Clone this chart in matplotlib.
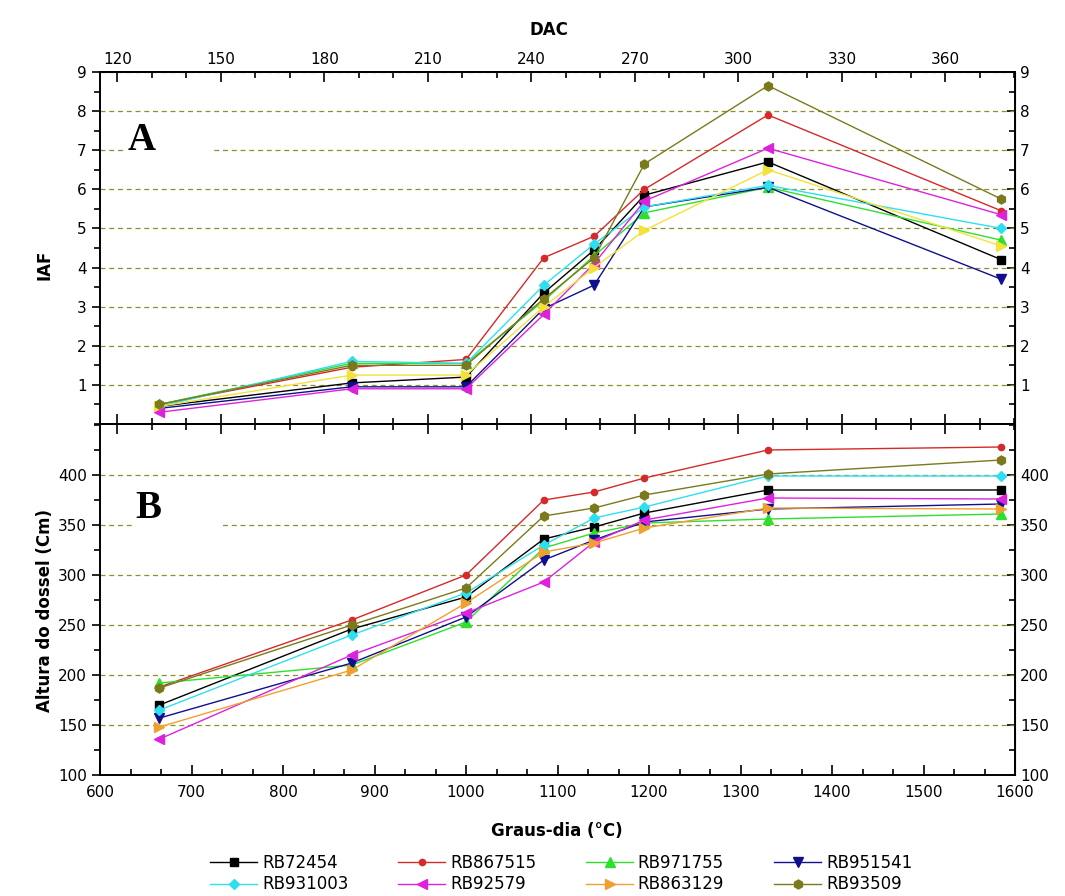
'''IAF e altura do dossel de variedades RB em função dos graus-dia'''

import numpy as np
import matplotlib
matplotlib.use('Agg')
import matplotlib.pyplot as plt
from matplotlib.ticker import MultipleLocator, FixedLocator, AutoMinorLocator
from matplotlib.patches import Rectangle

# graus-dia acumulados de cada avaliação
graus_dia = [665, 875, 1000, 1085, 1140, 1195, 1330, 1585]

variedades = ['RB72454', 'RB867515', 'RB971755', 'RB951541',
              'RB931003', 'RB92579', 'RB863129', 'RB93509']

# painel A : índice de área foliar
iaf_rb72454 = [0.45, 1.05, 1.2, 3.35, 4.45, 5.85, 6.7, 4.2]
iaf_rb867515 = [0.5, 1.45, 1.65, 4.25, 4.8, 6.0, 7.9, 5.45]
iaf_rb971755 = [0.5, 1.55, 1.55, 3.15, 4.3, 5.4, 6.05, 4.7]
iaf_rb951541 = [0.4, 0.95, 0.95, 2.95, 3.55, 5.55, 6.05, 3.7]
iaf_rb931003 = [0.45, 1.6, 1.55, 3.55, 4.6, 5.55, 6.1, 5.0]
iaf_rb92579 = [0.3, 0.9, 0.9, 2.8, 4.1, 5.7, 7.05, 5.35]
iaf_rb863129 = [0.45, 1.25, 1.25, 3.0, 4.0, 4.95, 6.5, 4.55]
iaf_rb93509 = [0.5, 1.5, 1.5, 3.2, 4.25, 6.65, 8.65, 5.75]

# painel B : altura do dossel (cm)
alt_rb72454 = [170, 246, 278, 336, 348, 362, 385, 385]
alt_rb867515 = [188, 255, 300, 375, 383, 397, 425, 428]
alt_rb971755 = [192, 210, 253, 327, 342, 352, 356, 361]
alt_rb951541 = [157, 212, 258, 315, 335, 353, 366, 371]
alt_rb931003 = [165, 240, 282, 330, 357, 368, 399, 399]
alt_rb92579 = [136, 220, 262, 293, 333, 355, 377, 376]
alt_rb863129 = [148, 205, 272, 323, 332, 347, 367, 366]
alt_rb93509 = [187, 250, 287, 359, 367, 380, 401, 415]

dac_ticks = [120, 150, 180, 210, 240, 270, 300, 330, 360]

iaf = [iaf_rb72454, iaf_rb867515, iaf_rb971755, iaf_rb951541,
       iaf_rb931003, iaf_rb92579, iaf_rb863129, iaf_rb93509]
altura = [alt_rb72454, alt_rb867515, alt_rb971755, alt_rb951541,
          alt_rb931003, alt_rb92579, alt_rb863129, alt_rb93509]

cores_b = ['#000000', '#d42a2a', '#2ee02e', '#10108c',
           '#2ee0ee', '#dd22dd', '#f0a030', '#7a7a1c']
cores_a = list(cores_b)
cores_a[6] = '#f2e23a'
marcadores = ['s', 'o', '^', 'v', 'D', '<', '>', 'h']
tamanhos = [6, 4.5, 6.5, 6.5, 5.5, 7, 7, 6.5]

cor_grade = '#8f8f2e'
fonte_ticks = 11


def gd_para_dac(x):
    return 120 + (np.asarray(x, dtype=float) - 618.9) / 3.771


def dac_para_gd(d):
    return 618.9 + (np.asarray(d, dtype=float) - 120) * 3.771


fig = plt.figure(figsize=(10.65, 8.96), dpi=100)
axA = fig.add_axes([0.0939, 0.5268, 0.8592, 0.3929])
axB = fig.add_axes([0.0939, 0.135, 0.8592, 0.3918])

for ax in (axA, axB):
    ax.set_xlim(600, 1600)
    ax.set_axisbelow(True)
    ax.grid(axis='y', color=cor_grade, linestyle=(0, (4, 3)), linewidth=0.9)
    for s in ax.spines.values():
        s.set_linewidth(1.4)
    ax.tick_params(axis='y', which='both', direction='out', labelsize=fonte_ticks,
                   width=1.2)
    ax.tick_params(axis='y', which='major', length=6)
    ax.tick_params(axis='y', which='minor', length=4)

# painel A
axA.set_ylim(0, 9)
axA.yaxis.set_major_locator(FixedLocator(range(1, 10)))
axA.yaxis.set_minor_locator(MultipleLocator(0.5))
axA.tick_params(axis='x', which='both', bottom=False, labelbottom=False)
for i, serie in enumerate(iaf):
    axA.plot(graus_dia, serie, color=cores_a[i], marker=marcadores[i],
             markersize=tamanhos[i], linewidth=1, zorder=2)

# painel B
axB.set_ylim(100, 451)
axB.yaxis.set_major_locator(FixedLocator(range(100, 401, 50)))
axB.yaxis.set_minor_locator(MultipleLocator(25))
axB.xaxis.set_major_locator(MultipleLocator(100))
axB.xaxis.set_minor_locator(AutoMinorLocator(3))
axB.tick_params(axis='x', which='both', direction='in', labelsize=fonte_ticks,
                width=1.2, pad=7)
axB.tick_params(axis='x', which='major', length=7)
axB.tick_params(axis='x', which='minor', length=4)
linhas = []
for i, serie in enumerate(altura):
    ln, = axB.plot(graus_dia, serie, color=cores_b[i], marker=marcadores[i],
                   markersize=tamanhos[i], linewidth=1, zorder=2)
    linhas.append(ln)

# eixos DAC (topo de A, base de A e topo de B)
for ax, lado, rotulo in ((axA, 'top', True), (axA, 'bottom', False), (axB, 'top', False)):
    sec = ax.secondary_xaxis(lado, functions=(gd_para_dac, dac_para_gd))
    sec.xaxis.set_major_locator(FixedLocator(dac_ticks))
    sec.xaxis.set_minor_locator(MultipleLocator(10))
    sec.tick_params(which='both', direction='in', labelsize=fonte_ticks, width=1.2,
                    labeltop=rotulo, labelbottom=False)
    sec.tick_params(which='major', length=7)
    sec.tick_params(which='minor', length=4)
    sec.spines[lado].set_linewidth(1.4)

# eixos y da direita
for ax, maj, mnr in ((axA, range(1, 10), 0.5), (axB, range(100, 401, 50), 25)):
    sec = ax.secondary_yaxis('right')
    sec.yaxis.set_major_locator(FixedLocator(maj))
    sec.yaxis.set_minor_locator(MultipleLocator(mnr))
    sec.tick_params(which='both', direction='in', labelsize=fonte_ticks, width=1.2)
    sec.tick_params(which='major', length=6)
    sec.tick_params(which='minor', length=4)

# letras dos painéis
axA.add_patch(Rectangle((0.025, 6.75), 0.1, 0.5, transform=axA.get_yaxis_transform(),
                        facecolor='white', edgecolor='none', zorder=1))
axB.add_patch(Rectangle((0.036, 340), 0.097, 20, transform=axB.get_yaxis_transform(),
                        facecolor='white', edgecolor='none', zorder=1))
axA.text(0.046, 0.805, 'A', transform=axA.transAxes, ha='center', va='center',
         family='Liberation Serif', fontweight='bold', fontsize=28, zorder=3)
axB.text(0.053, 0.758, 'B', transform=axB.transAxes, ha='center', va='center',
         family='Liberation Serif', fontweight='bold', fontsize=28, zorder=3)

fig.text(0.5155, 0.966, 'DAC', ha='center', va='center', fontweight='bold', fontsize=12)
fig.text(0.523, 0.072, 'Graus-dia (°C)', ha='center', va='center', fontweight='bold',
         fontsize=12)
fig.text(0.042, 0.704, 'IAF', ha='center', va='center', rotation=90,
         fontweight='bold', fontsize=12)
fig.text(0.042, 0.319, 'Altura do dossel (Cm)', ha='center', va='center', rotation=90,
         fontweight='bold', fontsize=12)

ordem = [0, 4, 1, 5, 2, 6, 3, 7]
fig.legend([linhas[k] for k in ordem], [variedades[k] for k in ordem],
           loc='upper center', bbox_to_anchor=(0.527, 0.058), ncol=4, frameon=False,
           fontsize=12, handlelength=2.8, handletextpad=0.3, columnspacing=3.0,
           labelspacing=0.2, borderaxespad=0.2)

fig.savefig('out.png', dpi=100)
